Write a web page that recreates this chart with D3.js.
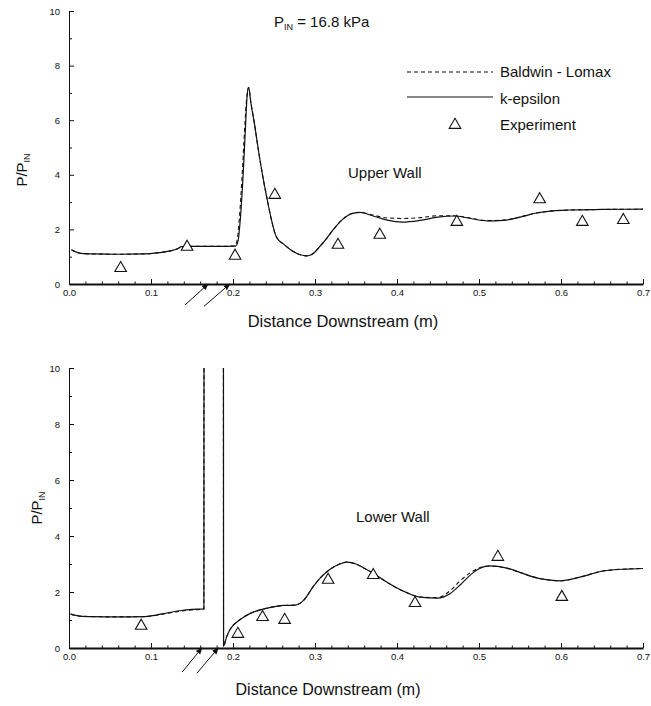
<!DOCTYPE html>
<html>
<head>
<meta charset="utf-8">
<script src="https://cdn.jsdelivr.net/npm/d3@7"></script>
<style>
  body { margin: 0; background: #fff; }
  text { font-family: "Liberation Sans", Arial, Helvetica, sans-serif; fill: #111; }
</style>
</head>
<body>
<svg id="chart" width="651" height="706"></svg>
<script>

// ---- data (x in m, y = P/P_IN) ----
var x_ticks = [0, 0.1, 0.2, 0.3, 0.4, 0.5, 0.6, 0.7];
var y_ticks = [0, 2, 4, 6, 8, 10];

// upper wall, k-epsilon
var upper_keps = [
  [0.003,1.25],[0.015,1.12],[0.03,1.10],[0.06,1.09],[0.09,1.10],[0.11,1.15],
  [0.125,1.22],[0.133,1.30],[0.137,1.37],[0.15,1.38],[0.18,1.38],[0.203,1.39],
  [0.206,1.55],[0.209,2.4],[0.212,3.8],[0.215,5.6],[0.217,6.8],[0.219,7.2],
  [0.222,6.6],[0.226,5.9],[0.231,4.9],[0.241,3.2],[0.253,1.72],[0.262,1.45],
  [0.272,1.22],[0.282,1.07],[0.29,1.03],[0.298,1.12],[0.306,1.38],[0.315,1.7],
  [0.322,1.98],[0.333,2.35],[0.345,2.58],[0.355,2.62],[0.37,2.5],[0.388,2.34],
  [0.407,2.27],[0.428,2.33],[0.45,2.45],[0.469,2.49],[0.49,2.4],[0.51,2.31],
  [0.53,2.33],[0.55,2.45],[0.57,2.6],[0.59,2.68],[0.611,2.71],[0.65,2.73],[0.7,2.74]
];
// upper wall, Baldwin-Lomax
var upper_bl = [
  [0.003,1.25],[0.015,1.12],[0.03,1.10],[0.06,1.09],[0.09,1.10],[0.11,1.15],
  [0.125,1.22],[0.133,1.30],[0.137,1.37],[0.15,1.38],[0.18,1.38],[0.202,1.39],
  [0.205,1.6],[0.208,2.5],[0.211,3.9],[0.214,5.6],[0.217,6.9],[0.219,7.2],
  [0.222,6.6],[0.226,5.9],[0.231,4.9],[0.241,3.2],[0.253,1.72],[0.262,1.45],
  [0.272,1.22],[0.282,1.07],[0.29,1.03],[0.298,1.12],[0.306,1.38],[0.315,1.7],
  [0.322,1.98],[0.333,2.35],[0.345,2.58],[0.355,2.62],[0.37,2.53],[0.388,2.42],
  [0.407,2.4],[0.428,2.43],[0.45,2.5],[0.469,2.5],[0.49,2.41],[0.51,2.32],
  [0.53,2.34],[0.55,2.46],[0.57,2.6],[0.59,2.68],[0.611,2.71],[0.65,2.73],[0.7,2.74]
];
var upper_exp = [
  [0.063,0.58],[0.144,1.36],[0.2025,1.03],[0.251,3.26],[0.328,1.43],
  [0.379,1.8],[0.473,2.27],[0.574,3.1],[0.626,2.27],[0.676,2.34]
];

// lower wall, k-epsilon (two pieces, the run-up goes off scale)
var lower_keps_a = [
  [0.002,1.21],[0.013,1.14],[0.03,1.12],[0.06,1.11],[0.09,1.12],[0.105,1.17],
  [0.119,1.25],[0.135,1.33],[0.15,1.38],[0.1645,1.40],[0.165,40]
];
var lower_keps_b = [
  [0.188,40],[0.1885,0.07],[0.192,0.38],[0.196,0.64],[0.208,1.0],[0.22,1.22],
  [0.233,1.36],[0.249,1.47],[0.262,1.52],[0.276,1.53],[0.286,1.7],[0.298,2.2],
  [0.308,2.55],[0.318,2.8],[0.33,3.0],[0.339,3.07],[0.35,3.0],[0.36,2.85],
  [0.371,2.67],[0.385,2.4],[0.4,2.14],[0.414,1.95],[0.428,1.82],[0.449,1.78],
  [0.465,1.95],[0.477,2.25],[0.49,2.62],[0.5,2.83],[0.513,2.93],[0.534,2.85],
  [0.55,2.7],[0.566,2.54],[0.58,2.45],[0.599,2.4],[0.623,2.53],[0.651,2.75],
  [0.68,2.82],[0.7,2.84]
];
// lower wall, Baldwin-Lomax
var lower_bl_a = [
  [0.002,1.21],[0.013,1.14],[0.03,1.12],[0.06,1.11],[0.09,1.12],[0.105,1.16],
  [0.119,1.23],[0.135,1.31],[0.15,1.36],[0.1645,1.39],[0.165,40]
];
var lower_bl_b = [
  [0.188,40],[0.1885,0.07],[0.192,0.38],[0.196,0.64],[0.208,1.0],[0.22,1.22],
  [0.233,1.36],[0.249,1.47],[0.262,1.52],[0.276,1.53],[0.286,1.7],[0.298,2.2],
  [0.308,2.55],[0.318,2.8],[0.33,3.0],[0.339,3.07],[0.35,3.0],[0.36,2.85],
  [0.371,2.67],[0.385,2.4],[0.4,2.14],[0.414,1.95],[0.428,1.82],[0.449,1.8],
  [0.465,2.05],[0.477,2.4],[0.49,2.7],[0.5,2.86],[0.513,2.93],[0.534,2.85],
  [0.55,2.7],[0.566,2.54],[0.58,2.45],[0.599,2.4],[0.623,2.53],[0.651,2.75],
  [0.68,2.82],[0.7,2.84]
];
var lower_exp = [
  [0.088,0.79],[0.206,0.5],[0.236,1.1],[0.263,1.0],[0.316,2.43],
  [0.371,2.6],[0.422,1.6],[0.523,3.25],[0.601,1.82]
];

// injector arrows under the axis: [x0, y0, x1, y1]
var upper_arrows = [[0.1415,-0.77,0.1695,0],[0.1646,-0.82,0.196,0]];
var lower_arrows = [[0.138,-0.86,0.162,0],[0.156,-0.9,0.182,0]];

var svg = d3.select('#chart');

var defs = svg.append('defs');
defs.append('marker')
  .attr('id', 'arrowhead')
  .attr('viewBox', '0 0 8 8')
  .attr('refX', 7).attr('refY', 4)
  .attr('markerWidth', 7).attr('markerHeight', 7)
  .attr('orient', 'auto')
  .append('path')
  .attr('d', 'M0,0.8 L8,4 L0,7.2 Z')
  .style('fill', '#111');

var panels = [
  { id: 'upper', top: 11, bottom: 284, keps: [upper_keps], bl: [upper_bl], exp: upper_exp,
    arrows: upper_arrows, label: 'Upper Wall', label_x: 348, label_y: 178,
    ytitle_x: 27, ytitle_y: 170, xtitle_x: 343, xtitle_y: 327, xtitle_fs: 16.5 },
  { id: 'lower', top: 368, bottom: 648, keps: [lower_keps_a, lower_keps_b], bl: [lower_bl_a, lower_bl_b],
    exp: lower_exp, arrows: lower_arrows, label: 'Lower Wall', label_x: 356, label_y: 522,
    ytitle_x: 42, ytitle_y: 508, xtitle_x: 328, xtitle_y: 695, xtitle_fs: 16 }
];

panels.forEach(function(p){

  var x = d3.scaleLinear().domain([0, 0.7]).range([69, 643]);
  var y = d3.scaleLinear().domain([0, 10]).range([p.bottom, p.top]);

  var g = svg.append('g').classed(p.id + '_panel', true);

  g.append('clipPath')
    .attr('id', 'clip_' + p.id)
    .append('rect')
    .attr('x', 69).attr('y', p.top)
    .attr('width', 576).attr('height', p.bottom - p.top + 1);

  // minor ticks
  g.append('g')
    .attr('transform', 'translate(0,' + p.bottom + ')')
    .call(d3.axisBottom(x).tickValues(d3.range(0, 0.701, 0.02)).tickSize(-2.5).tickFormat(''))
    .call(function(a){ a.select('.domain').remove(); });
  g.append('g')
    .attr('transform', 'translate(69,0)')
    .call(d3.axisLeft(y).tickValues([1, 3, 5, 7, 9]).tickSize(-3).tickFormat(''))
    .call(function(a){ a.select('.domain').remove(); });

  // main axes
  var xa = g.append('g')
    .attr('transform', 'translate(0,' + p.bottom + ')')
    .call(d3.axisBottom(x).tickValues(x_ticks).tickFormat(d3.format('.1f'))
      .tickSize(-5).tickSizeOuter(0).tickPadding(5));
  xa.select('.domain').style('stroke-width', 2);

  var ya = g.append('g')
    .attr('transform', 'translate(69,0)')
    .call(d3.axisLeft(y).tickValues(y_ticks).tickFormat(d3.format('d'))
      .tickSize(-5).tickSizeOuter(0).tickPadding(9));

  g.selectAll('.tick text')
    .style('font-family', '"Liberation Sans", Arial, sans-serif')
    .style('font-size', '9.5px')
    .style('fill', '#111');
  g.selectAll('.domain, .tick line').style('stroke', '#111');

  // curves
  var line = d3.line()
    .x(function(d){ return x(d[0]); })
    .y(function(d){ return y(d[1]); })
    .curve(d3.curveMonotoneX);

  var curves = g.append('g').attr('clip-path', 'url(#clip_' + p.id + ')');

  curves.selectAll('path.keps')
    .data(p.keps)
    .enter()
    .append('path')
    .classed('keps', true)
    .attr('d', line)
    .style('fill', 'none')
    .style('stroke', '#111')
    .style('stroke-width', 1.2);

  curves.selectAll('path.bl')
    .data(p.bl)
    .enter()
    .append('path')
    .classed('bl', true)
    .attr('d', line)
    .style('fill', 'none')
    .style('stroke', '#111')
    .style('stroke-width', 1.1)
    .style('stroke-dasharray', '4,3');

  // experiment
  g.selectAll('path.exp')
    .data(p.exp)
    .enter()
    .append('path')
    .classed('exp', true)
    .attr('d', d3.symbol().type(d3.symbolTriangle).size(58))
    .attr('transform', function(d){ return 'translate(' + x(d[0]) + ',' + y(d[1]) + ')'; })
    .style('fill', 'white')
    .style('stroke', '#111')
    .style('stroke-width', 1.1);

  // arrows
  g.selectAll('line.arrow')
    .data(p.arrows)
    .enter()
    .append('line')
    .classed('arrow', true)
    .attr('x1', function(d){ return x(d[0]); })
    .attr('y1', function(d){ return y(d[1]); })
    .attr('x2', function(d){ return x(d[2]); })
    .attr('y2', function(d){ return y(d[3]); })
    .attr('marker-end', 'url(#arrowhead)')
    .style('stroke', '#111')
    .style('stroke-width', 1);

  // labels
  g.append('text')
    .attr('x', p.label_x).attr('y', p.label_y)
    .style('font-size', '15px')
    .text(p.label);

  g.append('text')
    .attr('x', p.xtitle_x).attr('y', p.xtitle_y)
    .style('font-size', p.xtitle_fs + 'px')
    .style('text-anchor', 'middle')
    .text('Distance Downstream (m)');

  var yt = g.append('text')
    .attr('transform', 'translate(' + p.ytitle_x + ',' + p.ytitle_y + ') rotate(-90)')
    .style('font-size', '15px')
    .style('text-anchor', 'middle');
  yt.append('tspan').text('P/P');
  yt.append('tspan').attr('dy', 3).style('font-size', '9px').text('IN');
});

// title
var title = svg.append('text')
  .attr('x', 274).attr('y', 27)
  .style('font-size', '15px');
title.append('tspan').text('P');
title.append('tspan').attr('dy', 3).style('font-size', '9px').text('IN');
title.append('tspan').attr('dy', -3).text(' = 16.8 kPa');

// legend
var legend_items = ['Baldwin - Lomax', 'k-epsilon', 'Experiment'];
var legend = svg.append('g').classed('legend', true);
legend.append('line')
  .attr('x1', 407).attr('x2', 493).attr('y1', 72).attr('y2', 72)
  .style('stroke', '#111').style('stroke-width', 1.1).style('stroke-dasharray', '4,3');
legend.append('line')
  .attr('x1', 407).attr('x2', 493).attr('y1', 97).attr('y2', 97)
  .style('stroke', '#111').style('stroke-width', 1.2);
legend.append('path')
  .attr('d', d3.symbol().type(d3.symbolTriangle).size(58))
  .attr('transform', 'translate(455,125)')
  .style('fill', 'white').style('stroke', '#111').style('stroke-width', 1.1);
legend.selectAll('text')
  .data(legend_items)
  .enter()
  .append('text')
  .attr('x', 500)
  .attr('y', function(d, i){ return 77 + i * 26.5; })
  .style('font-size', '15px')
  .text(function(d){ return d; });

</script>
</body>
</html>
